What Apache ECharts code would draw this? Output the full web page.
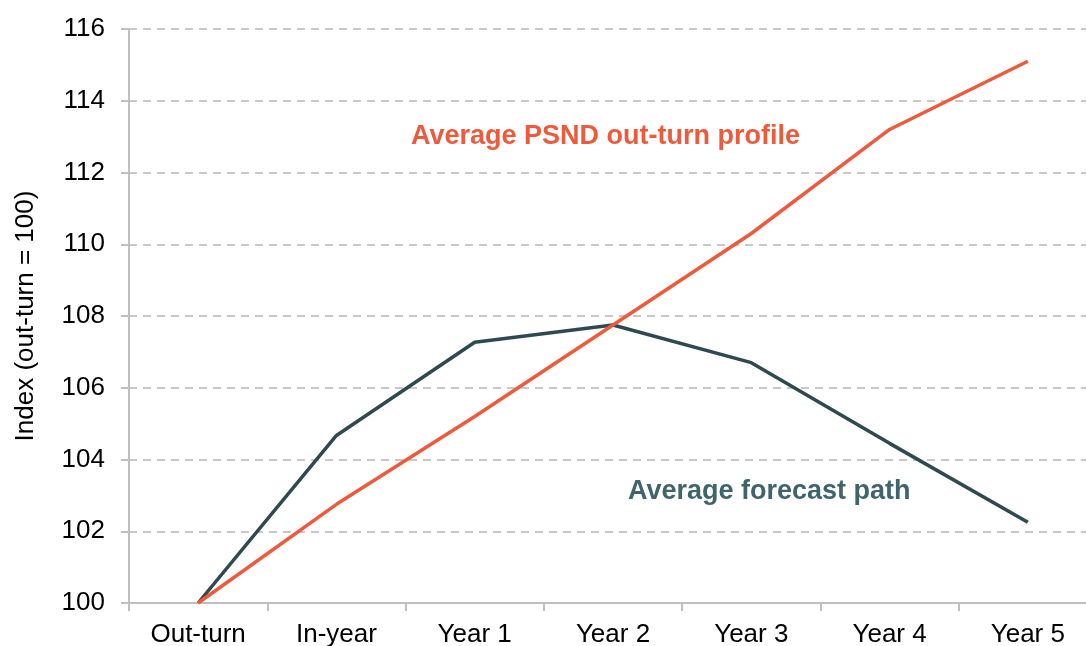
<!DOCTYPE html>
<html>
<head>
<meta charset="utf-8">
<script src="https://cdn.jsdelivr.net/npm/echarts@6/dist/echarts.min.js"></script>
<style>
  html, body { margin: 0; padding: 0; background: #fff; }
  #chart { width: 1086px; height: 646px; }
</style>
</head>
<body>
<div id="chart"></div>
<script>
const categories = ['Out-turn', 'In-year', 'Year 1', 'Year 2', 'Year 3', 'Year 4', 'Year 5']
const outturnProfile = [100, 102.75, 105.2, 107.75, 110.3, 113.2, 115.1]
const forecastPath = [100, 104.67, 107.27, 107.75, 106.7, 104.45, 102.25]
const yTicks = { min: 100, max: 116, interval: 2 }

const font = 'Liberation Sans, Arial, sans-serif'
const orange = '#EE5B3C'
const dark = '#2E4A50'

const chart = echarts.init(document.getElementById('chart'))

chart.setOption({
  animation: false,
  grid: { left: 129, right: -11, top: 29, bottom: 43, outerBoundsMode: 'none', containLabel: false },
  xAxis: {
    type: 'category',
    data: categories,
    boundaryGap: true,
    axisLine: { lineStyle: { color: '#bfbfbf', width: 2 } },
    axisTick: { show: true, length: 8, lineStyle: { color: '#bfbfbf', width: 2 } },
    axisLabel: { color: '#000', fontSize: 26, fontFamily: font, margin: 19 },
    splitLine: { show: false }
  },
  yAxis: {
    type: 'value',
    min: yTicks.min,
    max: yTicks.max,
    interval: yTicks.interval,
    name: 'Index (out-turn = 100)',
    nameLocation: 'middle',
    nameRotate: 90,
    nameGap: 90,
    nameTextStyle: { color: '#000', fontSize: 26, fontFamily: font },
    axisLine: { show: true, lineStyle: { color: '#bfbfbf', width: 2 } },
    axisTick: { show: true, inside: false, length: 8, lineStyle: { color: '#bfbfbf', width: 2 } },
    axisLabel: { color: '#000', fontSize: 26, fontFamily: font, margin: 24 },
    splitLine: { show: true, lineStyle: { color: '#c8c8c8', width: 2, type: [8, 6] } }
  },
  series: [
    {
      name: 'Average forecast path',
      type: 'line',
      data: forecastPath,
      symbol: 'none',
      lineStyle: { color: dark, width: 3.5 },
      z: 2
    },
    {
      name: 'Average PSND out-turn profile',
      type: 'line',
      data: outturnProfile,
      symbol: 'none',
      lineStyle: { color: orange, width: 3.5 },
      z: 3
    }
  ],
  graphic: [
    {
      type: 'text',
      left: 411,
      top: 123,
      style: { text: 'Average PSND out-turn profile', fill: orange, font: 'bold 27px ' + font }
    },
    {
      type: 'text',
      left: 628,
      top: 478,
      style: { text: 'Average forecast path', fill: '#3F646C', font: 'bold 27px ' + font }
    }
  ]
})

window.addEventListener('resize', () => {
  chart.resize()
})
</script>
</body>
</html>
